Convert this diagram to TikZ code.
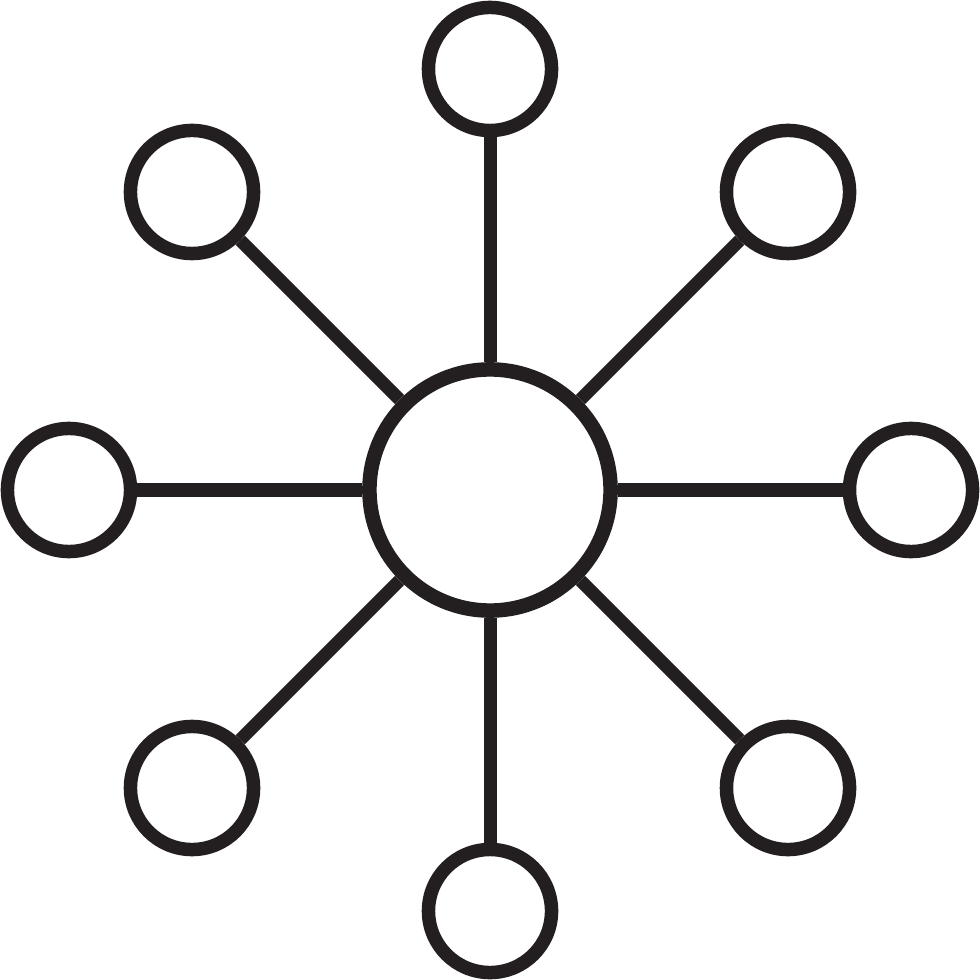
\documentclass[tikz,border=0pt]{standalone}
\definecolor{ink}{HTML}{231F20}
\begin{document}
\begin{tikzpicture}[x=0.01cm,y=-0.01cm,
  hub/.style={circle,draw=ink,line width=0.145cm,inner sep=0pt,minimum size=2.41cm,fill=white},
  leaf/.style={circle,draw=ink,line width=0.135cm,inner sep=0pt,minimum size=1.23cm,fill=white},
  link/.style={draw=ink,line width=0.13cm}]
\useasboundingbox (0,0) rectangle (980,980);
\node[hub] (c) at (490,490) {};
\node[leaf] (n) at (490,69) {};
\node[leaf] (s) at (490,911) {};
\node[leaf] (w) at (69,490) {};
\node[leaf] (e) at (911,490) {};
\node[leaf] (nw) at (192,192) {};
\node[leaf] (ne) at (788,192) {};
\node[leaf] (sw) at (192,788) {};
\node[leaf] (se) at (788,788) {};
\foreach \t in {n,s,w,e,nw,ne,sw,se}{\draw[link] (c) -- (\t);}
\end{tikzpicture}
\end{document}
